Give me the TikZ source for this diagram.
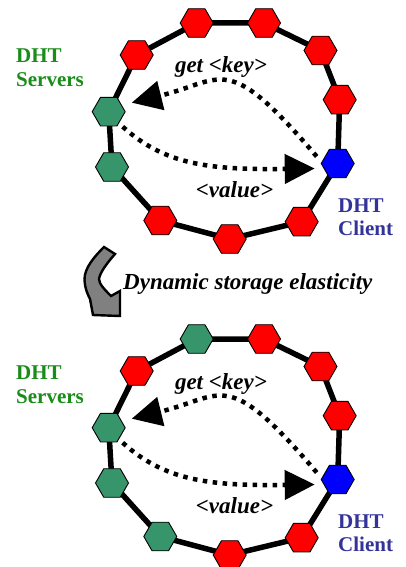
\documentclass[tikz,border=0pt]{standalone}
\usepackage{fontspec}
\setmainfont{Liberation Serif}
\usetikzlibrary{shapes.geometric,arrows.meta,calc}

\definecolor{hexred}{HTML}{FF0000}
\definecolor{hexgreen}{HTML}{36956A}
\definecolor{hexblue}{HTML}{0000FF}
\definecolor{srvgreen}{HTML}{198C19}
\definecolor{cltblue}{HTML}{333399}
\definecolor{arrowgray}{HTML}{808080}

\pgfdeclarelayer{ringlayer}
\pgfsetlayers{ringlayer,main}

\tikzset{
  hexnode/.style={regular polygon, regular polygon sides=6, minimum size=33pt,
    inner sep=0pt, draw=black, line width=0.9pt, fill=#1},
  ringline/.style={line width=5.5pt, line join=round},
  msgarrow/.style={line width=4.5pt, dash pattern=on 4.5pt off 5.5pt,
    -{Triangle[length=30pt,width=29pt]}},
  roletext/.style={font=\bfseries\fontsize{21pt}{24pt}\selectfont,
    anchor=base west, inner sep=0pt},
  msgtext/.style={font=\bfseries\itshape\fontsize{23pt}{26pt}\selectfont,
    anchor=base, inner sep=0pt},
}

% One DHT ring: #1 name prefix, #2 vertical offset,
% #3 colour of the upper node, #4 colour of the lower-left node
\newcommand{\dhtring}[4]{%
  \node[hexnode=hexred]   (#1a)      at (136.7,{55+#2})  {};
  \node[hexnode=#3]       (#1b)      at (196.7,{23+#2})  {};
  \node[hexnode=hexred]   (#1c)      at (264.0,{23+#2})  {};
  \node[hexnode=hexred]   (#1d)      at (320.5,{50.5+#2}) {};
  \node[hexnode=hexred]   (#1e)      at (339.7,{99.7+#2}) {};
  \node[hexnode=hexblue]  (#1client) at (337.7,{163.5+#2}) {};
  \node[hexnode=hexred]   (#1g)      at (301.7,{221.7+#2}) {};
  \node[hexnode=hexred]   (#1h)      at (229.7,{239+#2}) {};
  \node[hexnode=#4]       (#1i)      at (160.3,{220.5+#2}) {};
  \node[hexnode=hexgreen] (#1j)      at (112.0,{167+#2}) {};
  \node[hexnode=hexgreen] (#1server) at (108.7,{111.7+#2}) {};
  \begin{pgfonlayer}{ringlayer}
    \draw[ringline] (#1a.center) -- (#1b.center) -- (#1c.center) -- (#1d.center)
      -- (#1e.center) -- (#1client.center) -- (#1g.center) -- (#1h.center)
      -- (#1i.center) -- (#1j.center) -- (#1server.center) -- cycle;
  \end{pgfonlayer}
  % request and reply
  \draw[msgarrow] ($(#1client.center)+(-21,-7)$)
    .. controls (226,{50+#2}) and (224,{80+#2}) .. ($(#1server.center)+(23,-9)$);
  \draw[msgarrow] ($(#1server.center)+(14,15)$)
    .. controls (165,{165+#2}) and (210,{170+#2}) .. ($(#1client.center)+(-23,5)$);
  \node[msgtext] (#1get)   at (221,{73+#2})   {get <key>};
  \node[msgtext] (#1value) at (234.5,{197+#2}) {<value>};
  \node[roletext, text=srvgreen] (#1srvA) at (16,{63+#2}) {DHT};
  \node[roletext, text=srvgreen] (#1srvB) at (16,{87+#2}) {Servers};
  \node[roletext, text=cltblue]  (#1cliA) at (338,{212+#2}) {DHT};
  \node[roletext, text=cltblue]  (#1cliB) at (338,{235+#2}) {Client};
}

\begin{document}
\begin{tikzpicture}[x=1pt, y=-1pt]
  \begin{pgfonlayer}{ringlayer}
    \fill[white] (0,0) rectangle (406,567);
  \end{pgfonlayer}
  \useasboundingbox (0,0) rectangle (406,567);

  % ring before scaling out
  \dhtring{up}{0}{hexred}{hexred}

  % bent arrow and caption
  \draw[line width=2.4pt, fill=arrowgray, line join=miter]
    (104,247) .. controls (95,256) and (84,268) .. (84.5,280)
    .. controls (85,289) and (88,295) .. (90,299)
    -- (93,315) -- (120,316) -- (120,291) -- (111,296)
    .. controls (105,290) and (99,284) .. (99,279)
    .. controls (100,272) and (108,262) .. (115,254) -- cycle;
  \node[msgtext, anchor=base west] (elastic) at (123,289) {Dynamic storage elasticity};

  % ring after scaling out
  \dhtring{lo}{316}{hexgreen}{hexgreen}
\end{tikzpicture}
\end{document}
